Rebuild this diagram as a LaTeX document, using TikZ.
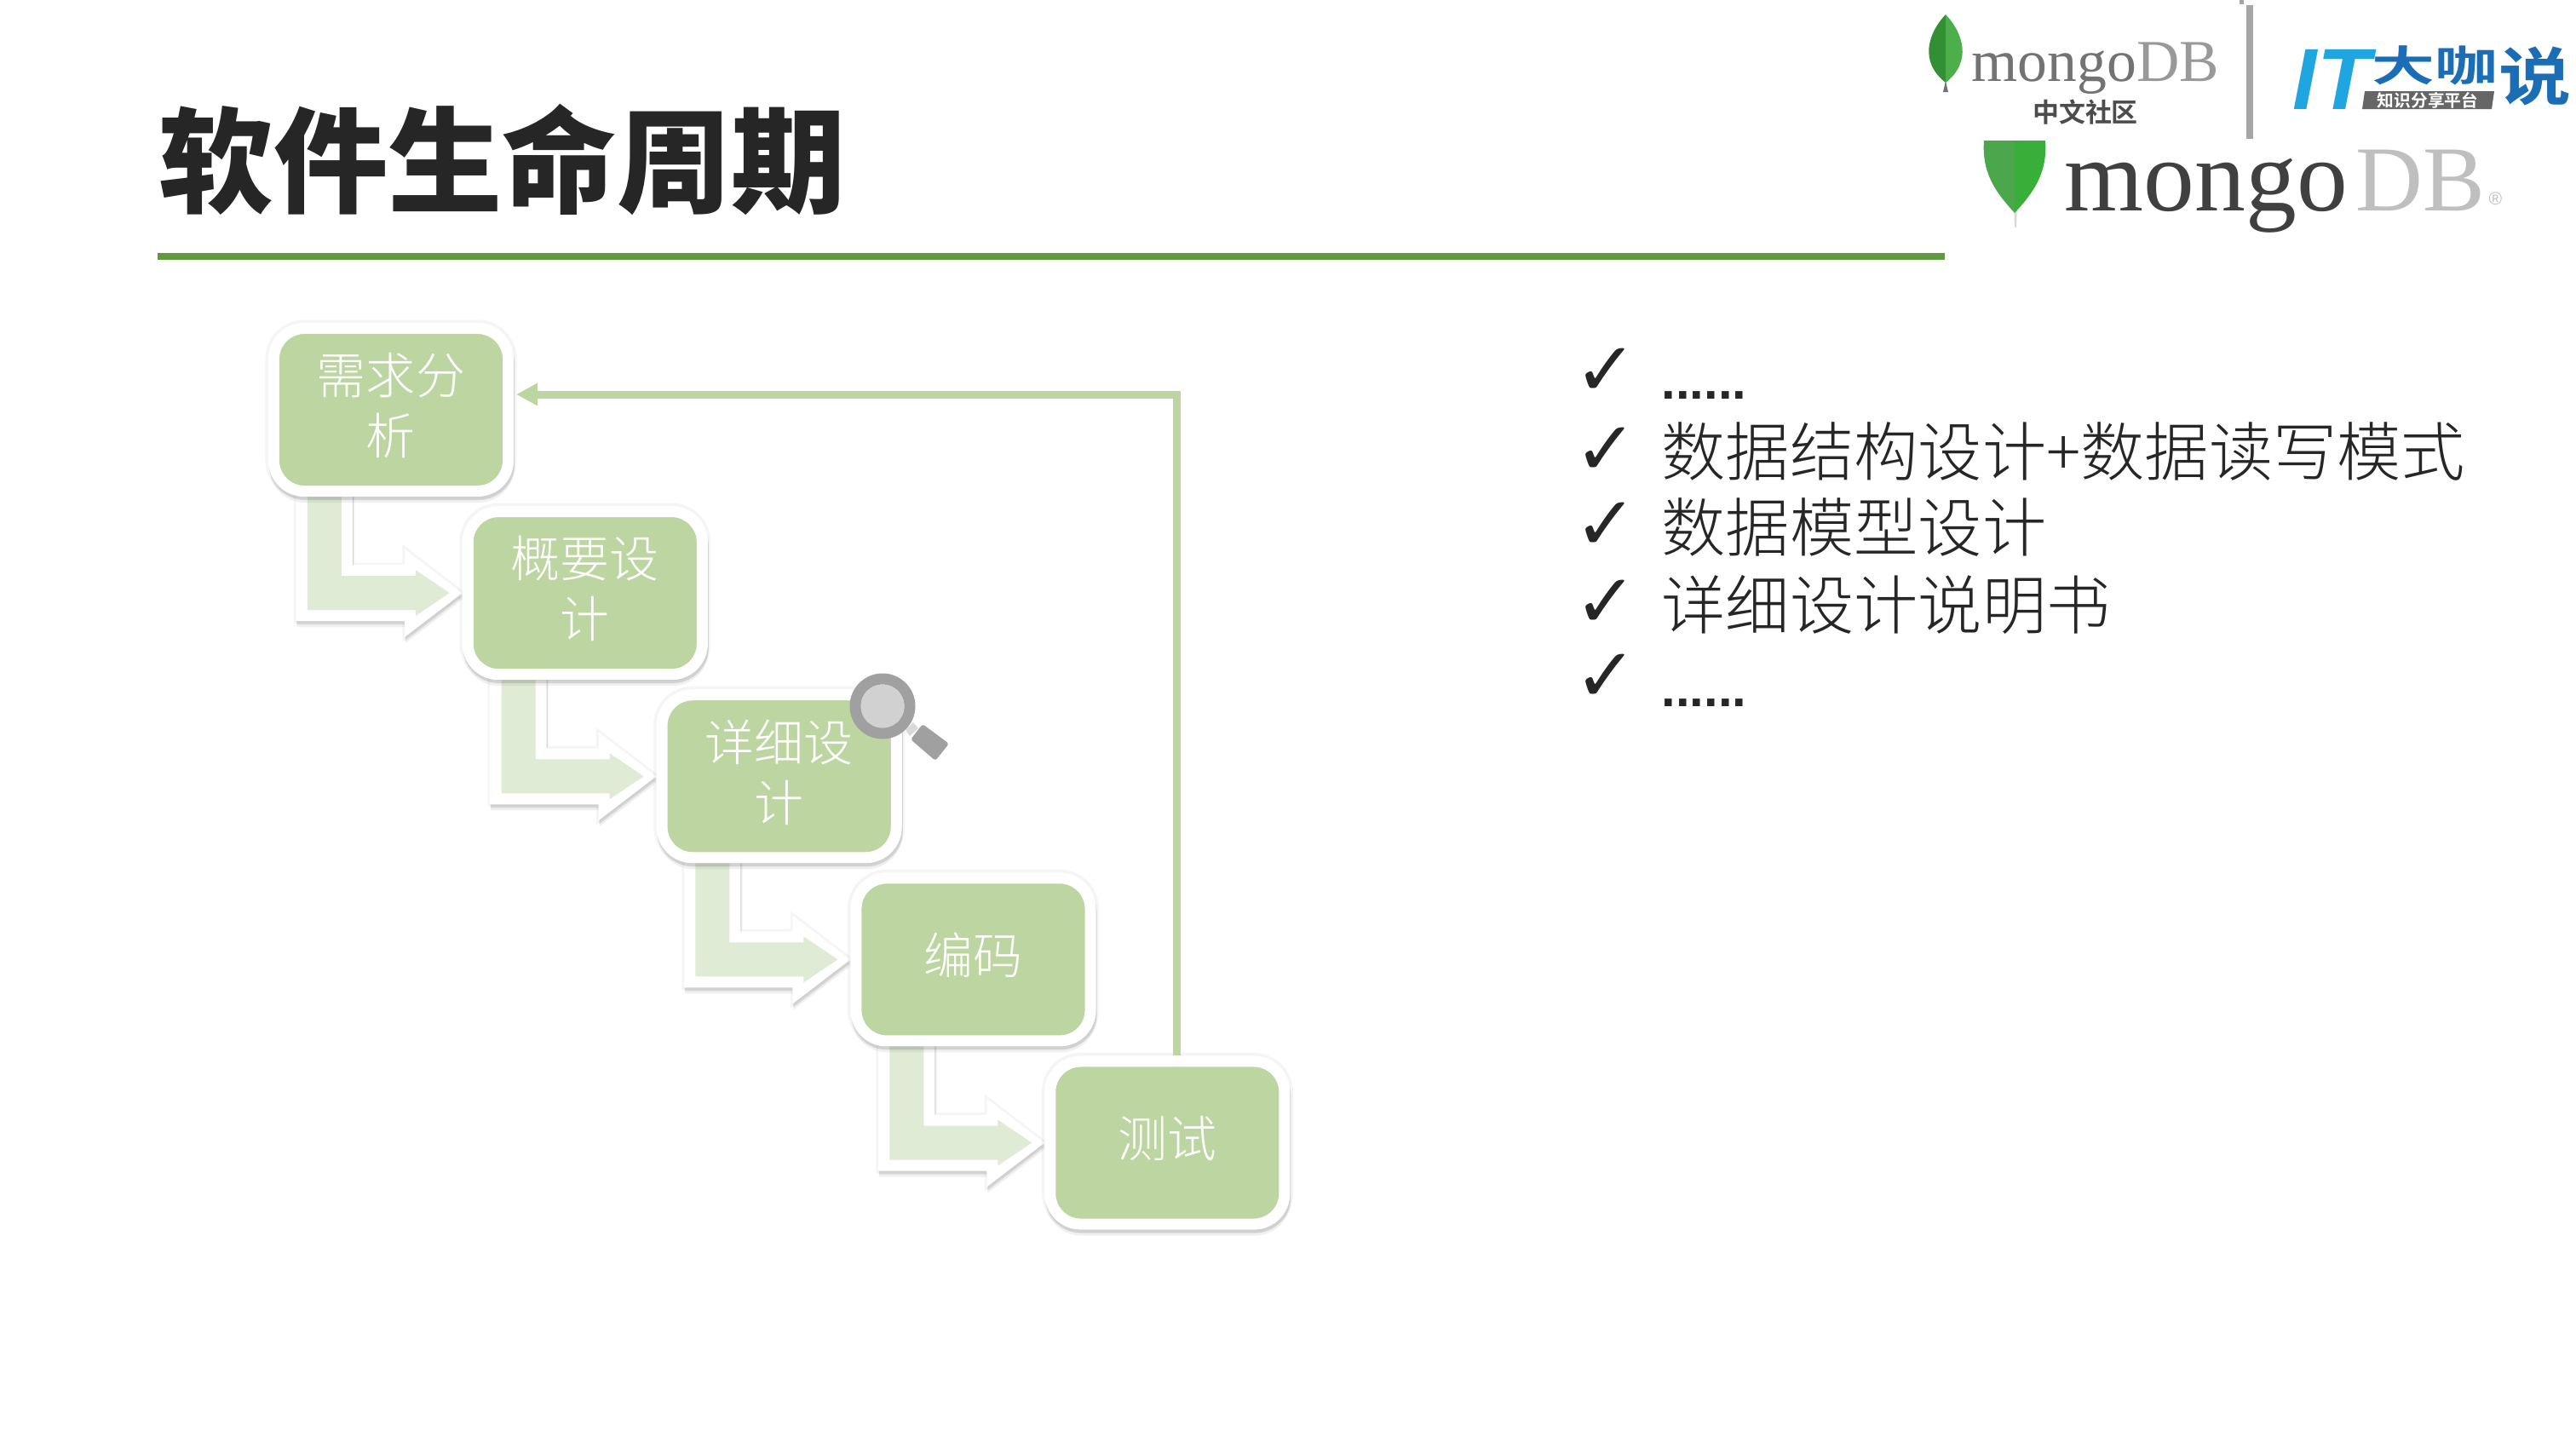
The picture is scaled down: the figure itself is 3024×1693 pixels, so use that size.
\documentclass[tikz,border=0pt]{standalone}
\usepackage{fontspec}
\setmainfont{Noto Sans CJK SC}[UprightFont=* Light, BoldFont=* Black]
\newfontfamily\cjkbold{Noto Sans CJK SC}[UprightFont=* Bold]
\newfontfamily\logoserif{Liberation Serif}
\newfontfamily\logosans{Liberation Sans}
\newfontfamily\checkfont{DejaVu Sans}
\usetikzlibrary{arrows.meta, positioning, calc, backgrounds, shadows}
\definecolor{tilegreen}{HTML}{BDD5A0}
\definecolor{palegreen}{HTML}{E0EBD6}
\definecolor{rulegreen}{HTML}{5F9A3F}
\definecolor{titleink}{HTML}{262626}
\definecolor{lensgray}{HTML}{A0A0A0}
\definecolor{itblue}{HTML}{1FA5E0}
\definecolor{itdark}{HTML}{1B6DB5}
\tikzset{
  softshadow/.style={
    drop shadow={shadow xshift=0cm, shadow yshift=0cm, opacity=.05,
               fill=black!70, draw=black!70, line width=0.2cm},
    drop shadow={shadow xshift=0.01cm, shadow yshift=-0.07cm, opacity=.08,
               fill=black!70, draw=black!70, line width=0.13cm},
    drop shadow={shadow xshift=0.01cm, shadow yshift=-0.04cm, opacity=.14,
               fill=black!70, draw=black!70, line width=0.13cm}},
  tile/.style={rectangle, draw=white, line width=0.13cm, fill=tilegreen,
               rounded corners=0.36cm, minimum width=2.75cm, minimum height=1.91cm,
               align=center, text=white, text depth=0.14cm, softshadow,
               font=\fontsize{16.5}{20.2}\selectfont},
  bentout/.style={fill=white,
    drop shadow={shadow xshift=0cm, shadow yshift=0cm, opacity=.05,
               fill=black!70, draw=black!70, line width=0.05cm},
    drop shadow={shadow xshift=0.01cm, shadow yshift=-0.07cm, opacity=.08, fill=black!70},
    drop shadow={shadow xshift=0.01cm, shadow yshift=-0.04cm, opacity=.14, fill=black!70}},
  bentin/.style={fill=palegreen},
  feedback/.style={-{Triangle[length=0.25cm,width=0.25cm]}, draw=tilegreen, line width=0.09cm},
  rowtext/.style={anchor=base west, inner sep=0pt, text=titleink,
               font=\fontsize{21.4}{24}\selectfont},
  rowdots/.style={anchor=base west, inner sep=0pt, text=titleink,
               font=\logosans\bfseries\fontsize{17}{19}\selectfont},
  rowcheck/.style={inner sep=0pt, text=titleink,
               font=\checkfont\fontsize{25}{25}\selectfont},
  logotext/.style={anchor=base west, inner sep=0pt},
}
\begin{document}
\begin{tikzpicture}[x=0.01cm, y=-0.01cm, node distance=2.15cm and 2.277cm, on grid]
  \useasboundingbox (0,0) rectangle (3024,1693);
  \node[anchor=west, inner sep=0pt, text=titleink, font=\bfseries\fontsize{38.2}{44}\selectfont] (title) at (186,187) {软件生命周期};
  \coordinate (ruleleft) at (185,301);
  \coordinate (ruleright) at (2283,301);
  \draw[rulegreen, line width=0.08cm] (ruleleft) -- (ruleright);

  \node[tile] (req) at (459,481) {需求分\\析};
  \node[tile, below right=of req]     (outline) {概要设\\计};
  \node[tile, below right=of outline] (detail)  {详细设\\计};
  \node[tile, below right=of detail]  (coding)  {编码};
  \node[tile, below right=of coding]  (test)    {测试};

  \begin{scope}[on background layer]
    \fill[white] (0,0) rectangle (3024,1693);
    \foreach \src/\dst in {req/outline, outline/detail, detail/coding, coding/test} {
      \path[bentout] (\dst.west) -- ++(-68,52) -- ++(0,-19) -- ++(-127.5,0) -- ++(0,-158)
        -- ++(66.5,0) -- ++(0,92) -- ++(61,0) -- ++(0,-19) -- cycle;
      \fill[bentin] ($(\dst.west)+(-15,0)$) -- ++(-40,27) -- ++(0,-7) -- ++(-127,0) -- ++(0,-145)
        -- ++(40,0) -- ++(0,105) -- ++(87,0) -- ++(0,-7) -- cycle;
    }
  \end{scope}
  \draw[feedback] ($(test.north)+(11,0)$) |- ($(req.east)+(3,-18)$);

  % magnifier
  \fill[lensgray, rounded corners=0.03cm] (1083,850) -- (1114,873) -- (1098,893) -- (1069,868) -- cycle;
  \fill[black!15] (1072,848) -- (1078,855) -- (1068,864) -- (1063,857) -- cycle;
  \draw[white, line width=0.03cm] (1036,829) circle (29);
  \draw[lensgray, line width=0.13cm] (1036,829) circle (32);
  \fill[black!18] (1036,829) circle (25.5);

  % list
  \foreach \ypos/\yck/\rowname/\rowlabel in {558/530/rowb/数据结构设计+数据读写模式, 647/618/rowc/数据模型设计, 738/709/rowd/详细设计说明书} {
    \node[rowcheck] (\rowname check) at (1885,\yck) {✓};
    \node[rowtext] (\rowname) at (1950,\ypos) {\rowlabel};
  }
  \foreach \ypos/\yck/\rowname in {468/437/rowa, 829/796/rowe} {
    \node[rowcheck] (\rowname check) at (1885,\yck) {✓};
    \node[rowdots] (\rowname) at (1950,\ypos) {......};
  }

  % logos
  \fill[black!55] (2284,95) -- (2281,108) -- (2287,108) -- cycle;
  \fill[green!45!black!80!white] (2284,17) .. controls (2264,38) and (2252,72) .. (2284,97) -- cycle;
  \fill[green!55!black!70!white] (2284,17) .. controls (2304,38) and (2316,72) .. (2284,97) -- cycle;
  \node[logotext, text=black!55, font=\logoserif\fontsize{19.8}{22}\selectfont] (smallmongo) at (2314,95) {mongo\textcolor{black!40}{DB}};
  \node[inner sep=0pt, text=black!70, font=\cjkbold\fontsize{8.8}{10}\selectfont] (community) at (2448,132) {中文社区};
  \coordinate (dividertop) at (2641,6);
  \coordinate (dividerbottom) at (2641,163);
  \draw[black!35, line width=0.08cm] (dividertop) -- (dividerbottom);
  \fill[black!35] (2629,0) rectangle (2634,5);

  \node[logotext, text=itblue, font=\logosans\bfseries\itshape\fontsize{29}{32}\selectfont] (itmark) at (2691,128) {IT};
  \node[inner sep=0pt, text=itdark, font=\cjkbold\fontsize{14}{15}\selectfont, xscale=1.5, transform shape] (dakamark) at (2858,77) {大咖};
  \node[inner sep=0pt, text=itdark, font=\cjkbold\fontsize{21}{24}\selectfont, xscale=1.15, transform shape] (shuomark) at (2976,90) {说};
  \fill[black!60] (2776,107) -- (2928,107) -- (2925,128) -- (2773,128) -- cycle;
  \node[inner sep=0pt, text=white, font=\cjkbold\fontsize{5.6}{7}\selectfont] (itband) at (2850,117.5) {知识分享平台};

  \fill[black!15] (2364,240) -- (2368,240) -- (2367,267) -- (2365,267) -- cycle;
  \fill[green!50!black!70!white] (2365,165) -- (2329,165) .. controls (2326,205) and (2345,228) .. (2365,250) -- cycle;
  \fill[green!60!black!78!white] (2365,165) -- (2401,165) .. controls (2404,205) and (2385,228) .. (2365,250) -- cycle;
  \node[logotext, text=black!75, font=\logoserif\fontsize{34}{38}\selectfont] (bigmongo) at (2423,247) {mongo};
  \node[logotext, text=black!25, font=\logoserif\fontsize{31}{36}\selectfont] (bigdb) at (2765,247) {DB};
  \node[logotext, text=black!25, font=\logosans\fontsize{6}{7}\selectfont] (bigreg) at (2921,240) {®};
\end{tikzpicture}
\end{document}
